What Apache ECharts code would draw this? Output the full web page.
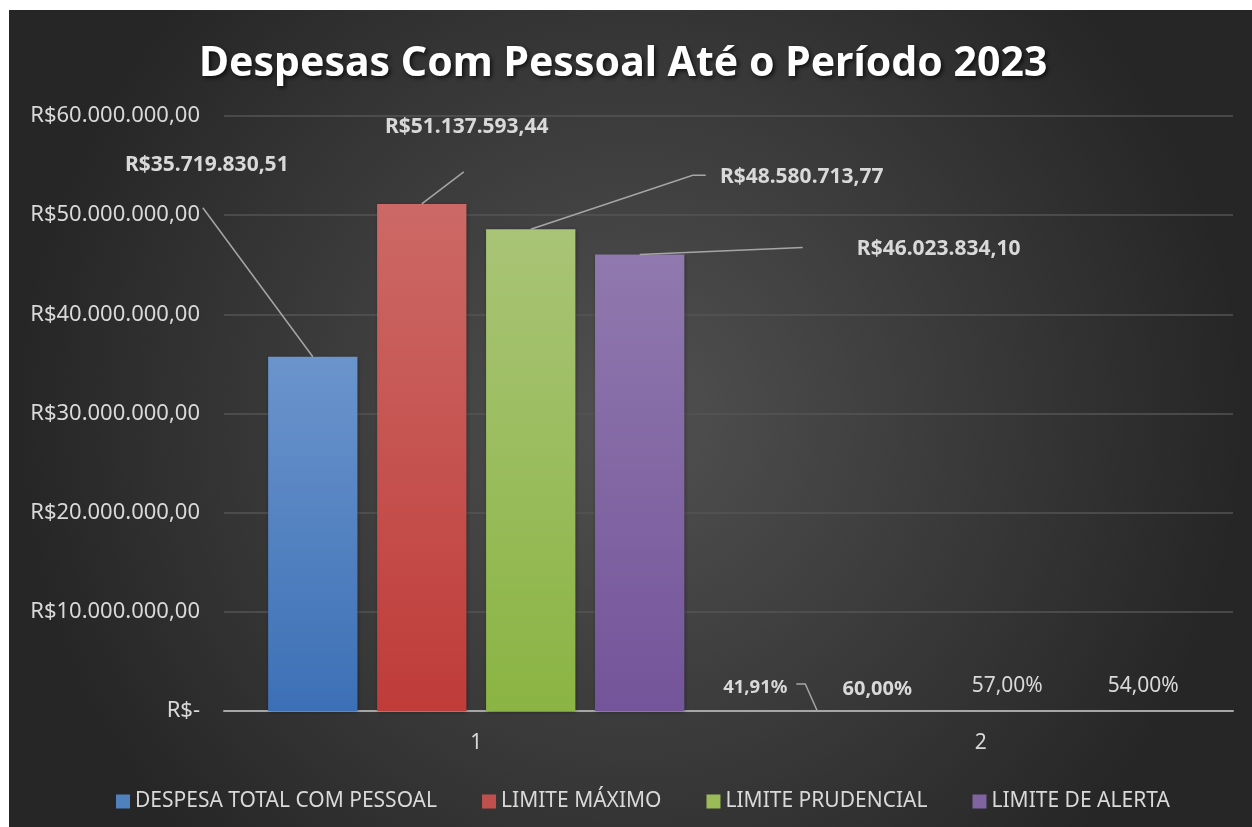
<!DOCTYPE html>
<html>
<head>
<meta charset="utf-8">
<script src="https://cdn.jsdelivr.net/npm/echarts@6/dist/echarts.min.js"></script>
<style>
  html, body { margin: 0; padding: 0; background: #ffffff; }
  #chart { position: absolute; left: 9px; top: 10px; width: 1243px; height: 817px; }
</style>
</head>
<body>
<div id="chart"></div>
<script>
// dados
const categorias = ['1', '2'];
const despesaTotal = [35719830.51, 0.4191];
const limiteMaximo = [51137593.44, 0.60];
const limitePrudencial = [48580713.77, 0.57];
const limiteAlerta = [46023834.10, 0.54];
const nomesSeries = ['DESPESA TOTAL COM PESSOAL', 'LIMITE MÁXIMO', 'LIMITE PRUDENCIAL', 'LIMITE DE ALERTA'];
const ticksY = [0, 10000000, 20000000, 30000000, 40000000, 50000000, 60000000];

const FONTE = '"Noto Sans", "Open Sans", sans-serif';
const TEXTO = '#d9d9d9';
const COR_LINHA = '#a6a6a6';

function formataNumero(v) {
  const partes = v.toFixed(2).split('.');
  const inteiro = partes[0].replace(/\B(?=(\d{3})+(?!\d))/g, '.');
  return inteiro + ',' + partes[1];
}
function formataReal(v) {
  return v === 0 ? 'R$-' : 'R$' + formataNumero(v);
}
function formataPct(v) {
  return (v * 100).toFixed(2).replace('.', ',') + '%';
}

// gradiente vertical de cada barra
function grad(topo, base) {
  return new echarts.graphic.LinearGradient(0, 0, 0, 1, [
    { offset: 0, color: topo },
    { offset: 1, color: base }
  ]);
}

// deslocamento dos rótulos (arrastados no Excel) e pontos das linhas de chamada,
// relativos ao topo central de cada barra
const ajustes = [
  [{ dx: -106, dy: -176, bold: true, size: 21, linha: [[-110, -149]] },
   { dx: -62, dy: -9, bold: true, size: 18.5, linha: [[-12, -27], [-21, -27]] }],
  [{ dx: 45, dy: -61, bold: true, size: 21, linha: [[42, -32]] },
   { dx: -49, dy: -7, bold: true, size: 20, linha: null }],
  [{ dx: 271, dy: -37, bold: true, size: 21, linha: [[162, -54], [175, -54]] },
   { dx: -28, dy: -9, bold: false, size: 21, linha: null }],
  [{ dx: 299, dy: 10, bold: true, size: 21, linha: [[163, -7]] },
   { dx: -1, dy: -9, bold: false, size: 21, linha: null }]
];

const valores = [despesaTotal, limiteMaximo, limitePrudencial, limiteAlerta];
const cores = [
  ['#6b94cc', '#3c70b6'],
  ['#cc6966', '#bf3c39'],
  ['#a9c476', '#8ab443'],
  ['#9079ae', '#74549a']
];
const coresLegenda = ['#4f81bd', '#c0504d', '#9bbb59', '#8064a2'];

const series = valores.map((vals, s) => ({
  name: nomesSeries[s],
  type: 'bar',
  barGap: '22%',
  barCategoryGap: '17.5%',
  itemStyle: {
    color: grad(cores[s][0], cores[s][1]),
    shadowColor: 'rgba(0,0,0,0.35)',
    shadowBlur: 4,
    shadowOffsetX: 1,
    shadowOffsetY: 1
  },
  data: vals.map((v, i) => ({
    value: v,
    label: {
      show: true,
      position: 'top',
      color: TEXTO,
      fontFamily: FONTE,
      fontWeight: ajustes[s][i].bold ? 'bold' : 'normal',
      fontSize: ajustes[s][i].size,
      formatter: i === 0 ? formataReal(v) : formataPct(v)
    }
  })),
  labelLayout: p => ({ dx: ajustes[s][p.dataIndex].dx, dy: ajustes[s][p.dataIndex].dy })
}));

const chart = echarts.init(document.getElementById('chart'));
chart.setOption({
  animation: false,
  backgroundColor: new echarts.graphic.RadialGradient(0.5, 0.5, 0.75, [
    { offset: 0, color: '#515151' },
    { offset: 1, color: '#262626' }
  ]),
  title: {
    text: 'Despesas Com Pessoal Até o Período 2023',
    left: 185,
    top: 29,
    textStyle: {
      color: '#ffffff',
      fontFamily: FONTE,
      fontWeight: 'bold',
      fontSize: 41,
      textShadowColor: 'rgba(0,0,0,0.7)',
      textShadowBlur: 4,
      textShadowOffsetX: 2,
      textShadowOffsetY: 2
    }
  },
  legend: {
    data: nomesSeries.map((n, i) => ({ name: n, itemStyle: { color: coresLegenda[i] } })),
    top: 776,
    left: 102,
    icon: 'rect',
    itemWidth: 14,
    itemHeight: 14,
    itemGap: 45,
    textStyle: { color: TEXTO, fontFamily: FONTE, fontSize: 21 }
  },
  grid: { left: 215, right: 19, top: 106, bottom: 116, containLabel: false },
  xAxis: {
    type: 'category',
    data: categorias,
    axisLine: { lineStyle: { color: COR_LINHA, width: 2 } },
    axisTick: { show: false },
    axisLabel: { color: TEXTO, fontFamily: FONTE, fontSize: 21, margin: 22 }
  },
  yAxis: {
    type: 'value',
    min: ticksY[0],
    max: ticksY[ticksY.length - 1],
    interval: ticksY[1] - ticksY[0],
    axisLine: { show: false },
    axisTick: { show: false },
    splitLine: { lineStyle: { color: '#555555', width: 1.5 } },
    axisLabel: { color: TEXTO, fontFamily: FONTE, fontSize: 22, margin: 24, formatter: formataReal }
  },
  series: series
});

// linhas de chamada: partem do topo de cada barra, como no Excel
const linhas = [];
valores.forEach((vals, s) => {
  const dados = chart.getModel().getSeriesByIndex(s).getData();
  vals.forEach((v, i) => {
    const pts = ajustes[s][i].linha;
    if (!pts) return;
    const lay = dados.getItemLayout(i);
    const cx = lay.x + lay.width / 2;
    const cy = Math.min(lay.y, lay.y + lay.height);
    linhas.push({
      type: 'polyline',
      silent: true,
      z: 10,
      shape: { points: [[cx, cy]].concat(pts.map(p => [cx + p[0], cy + p[1]])) },
      style: { stroke: COR_LINHA, lineWidth: 1.5, fill: null }
    });
  });
});
chart.setOption({ graphic: linhas });
</script>
</body>
</html>
